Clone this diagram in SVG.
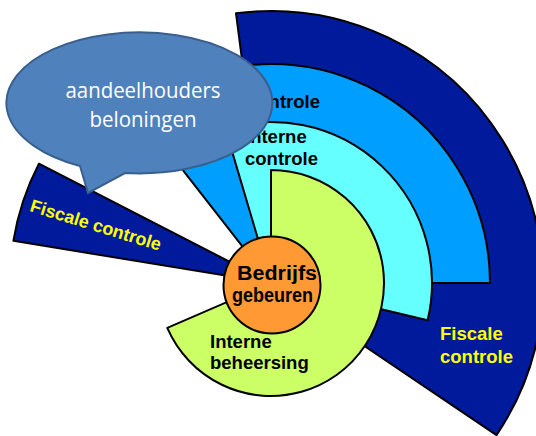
<svg xmlns="http://www.w3.org/2000/svg" width="536" height="436" viewBox="0 0 536 436">
  <style>
    .sector { stroke: #000; stroke-width: 2; stroke-linejoin: round; }
    .dark { fill: #001A9C; }
    .blue { fill: #009EFF; }
    .cyan { fill: #66FFFF; }
    .green { fill: #CCFF66; }
    .core { fill: #FF9933; }
    .lbl { font-family: "Liberation Sans", Arial, sans-serif; font-weight: bold; font-size: 18.5px; fill: #000; }
    .yel { fill: #FFFF00; }
    .bubble { fill: #4F81BD; stroke: #3A5F8C; stroke-width: 2; }
    .btxt { font-family: "Open Sans", "Noto Sans", sans-serif; font-size: 21px; fill: #FFFFFF; text-anchor: middle; }
  </style>

  <!-- outer fiscal ring, right-hand fan -->
  <g id="fiscale-controle-rechts">
    <path class="sector dark" d="M271,283 L496.5,435.1 A272,272 0 0 0 236,13.3 Z"/>
    <text class="lbl yel" x="440" y="340">Fiscale</text>
    <text class="lbl yel" x="440" y="363">controle</text>
  </g>

  <!-- narrow fiscal wedge on the left -->
  <g id="fiscale-controle-links">
    <path class="sector dark" d="M271,283 L38.9,163.7 A261,261 0 0 0 13.4,240.8 Z"/>
    <text class="lbl yel" x="29" y="211" transform="rotate(17 29 211)" style="font-size:18px" textLength="136" lengthAdjust="spacingAndGlyphs">Fiscale controle</text>
  </g>

  <!-- external control band -->
  <g id="externe-controle">
    <path class="sector blue" d="M271,283 L490,283 A219,219 0 0 0 136.2,110.4 Z"/>
    <text class="lbl" x="247" y="108">controle</text>
  </g>

  <!-- internal control band -->
  <g id="interne-controle">
    <path class="sector cyan" d="M271,283 L427.6,320.3 A161,161 0 0 0 225.3,128.6 Z"/>
    <text class="lbl" x="245" y="143">Interne</text>
    <text class="lbl" x="245" y="165">controle</text>
  </g>

  <!-- internal management band -->
  <g id="interne-beheersing">
    <path class="sector green" d="M271,283 L271,170 A113,113 0 1 1 167.3,327.9 Z"/>
    <text class="lbl" x="210" y="348">Interne</text>
    <text class="lbl" x="210" y="369">beheersing</text>
  </g>

  <!-- business operations core -->
  <g id="bedrijfsgebeuren">
    <circle class="sector core" cx="272" cy="285" r="48.5"/>
    <text class="lbl" x="237" y="280" style="font-size:20px" textLength="80" lengthAdjust="spacingAndGlyphs">Bedrijfs</text>
    <text class="lbl" x="232" y="302" style="font-size:20px" textLength="81" lengthAdjust="spacingAndGlyphs">gebeuren</text>
  </g>

  <!-- speech bubble callout -->
  <g id="aandeelhouders-beloningen">
    <path class="bubble" d="M80,166 A133,70.5 0 1 1 125,173 L88,193 Z"/>
    <text class="btxt" x="143" y="98" textLength="155" lengthAdjust="spacingAndGlyphs">aandeelhouders</text>
    <text class="btxt" x="143" y="127" textLength="107" lengthAdjust="spacingAndGlyphs">beloningen</text>
  </g>
</svg>
